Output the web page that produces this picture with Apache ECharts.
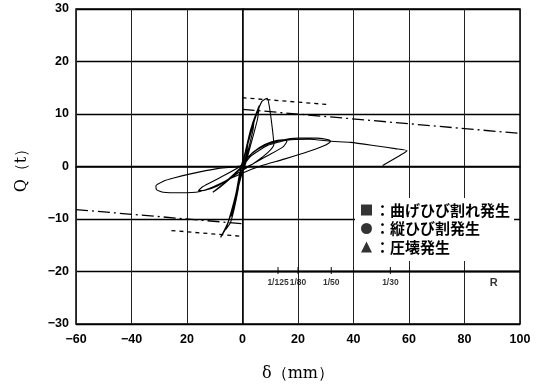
<!DOCTYPE html>
<html>
<head>
<meta charset="utf-8">
<script src="https://cdn.jsdelivr.net/npm/echarts@6/dist/echarts.min.js"></script>
<style>
  html, body { margin: 0; padding: 0; background: #fff; }
  #chart { width: 542px; height: 389px; }
</style>
</head>
<body>
<div id="chart"></div>
<script>
// Axis tick labels
const xTickLabels = ['−60', '−40', '20', '0', '20', '40', '60', '80', '100'];
const yTickLabels = ['−30', '−20', '−10', '0', '10', '20', '30'];

// Load–displacement history, δ (mm) vs Q (t), in loading order
const loadPath = [
  [0, 0],
  [1.0, 2.5], [2.0, 4.6], [1.6, 3.0], [0.6, 0.5], [-0.8, -2.5], [-1.8, -4.6], [-1.3, -3.0], [-0.4, -0.5],
  [1.0, 2.8], [2.8, 6.8], [4.2, 9.0], [3.8, 7.0], [2.0, 3.0], [0.5, 0.0], [-1.2, -3.2], [-2.8, -7.0], [-4.0, -9.5], [-3.3, -7.4], [-1.4, -3.0], [-0.3, 0.0],
  [1.5, 3.6], [3.6, 8.2], [6.0, 11.6], [5.4, 9.0], [3.0, 4.2], [0.8, 0.0], [-1.6, -3.6], [-3.8, -8.5], [-6.0, -12.0], [-4.2, -10.5], [-1.6, -4.5], [-0.4, 0.2],
  [2.0, 4.4], [4.6, 9.2], [7.0, 12.4], [8.9, 13.0], [9.8, 11.0], [10.8, 7.0], [11.3, 4.2], [9.0, 2.6], [4.0, 0.6], [0.2, -0.6],
  [-2.4, -5.4], [-5.2, -10.6], [-7.9, -13.5], [-5.6, -11.4], [-2.4, -5.2], [-0.8, -0.8], [0.4, 0.3],
  [-3.0, -1.4], [-7.0, -3.3], [-10.0, -4.6], [-10.7, -4.9], [-8.5, -4.1], [-4.0, -2.1], [-0.5, -0.3],
  [2.0, 1.8], [6.0, 3.6], [10.5, 4.7], [14.5, 5.1], [16.0, 4.8], [14.5, 3.7], [8.5, 1.9], [2.5, 0.1],
  [-3.5, -1.9], [-9.0, -3.7], [-13.5, -4.5], [-15.9, -4.6], [-14.5, -3.9], [-8.0, -2.1], [-1.0, 0.0],
  [3.0, 2.3], [8.0, 4.0], [14.0, 5.0], [20.0, 5.4], [27.0, 5.4], [31.0, 5.1], [31.8, 4.8], [30.0, 4.1], [24.0, 2.9], [15.0, 1.4], [7.0, 0.2], [2.0, -0.8],
  [-4.0, -2.2], [-10.3, -3.8], [-15.7, -4.8], [-22.0, -5.0], [-28.5, -4.9], [-31.0, -4.4], [-31.2, -3.7], [-28.5, -2.8], [-24.8, -2.2], [-18.7, -1.4], [-9.1, -0.4], [0.0, 0.2],
  [3.0, 2.0], [9.0, 4.0], [16.0, 5.0], [24.0, 5.2], [32.0, 4.8], [39.0, 4.6], [48.5, 3.9], [55.0, 3.4], [59.3, 3.0], [57.0, 2.2], [50.5, 0.2]
];

// Envelope / strength reference lines
const peakEnvelopePos = [[0, 13.1], [31, 11.8]];
const peakEnvelopeNeg = [[-25.6, -12.2], [0, -13.3]];
const calcLinePos = [[0, 10.9], [100, 6.3]];
const calcLineNeg = [[-60, -8.2], [0, -10.9]];

// Drift angle scale drawn along Q = -20
const driftAxisLevel = -20;
const driftAxisSpan = [0, 100];
const driftTicks = [12.8, 20, 32, 53.3];
const driftLabels = ['1/125', '1/80', '1/50', '1/30'];
const driftName = 'R';
const driftNamePos = 90.5;

// Event markers
const legendNames = ['：曲げひび割れ発生', '：縦ひび割発生', '：圧壊発生'];
const legendIcons = ['rect', 'circle', 'triangle'];

const numFont = "'Liberation Sans', Arial, sans-serif";
const chart = echarts.init(document.getElementById('chart'));

const series = [
  {
    type: 'line', data: loadPath, showSymbol: false, smooth: 0.2,
    lineStyle: { color: '#000', width: 1.1 }, z: 5, silent: true
  },
  {
    type: 'line', data: peakEnvelopePos, showSymbol: false,
    lineStyle: { color: '#000', width: 1.3, type: [4, 4] }, silent: true
  },
  {
    type: 'line', data: peakEnvelopeNeg, showSymbol: false,
    lineStyle: { color: '#000', width: 1.3, type: [4, 4] }, silent: true
  },
  {
    type: 'line', data: calcLinePos, showSymbol: false,
    lineStyle: { color: '#000', width: 1.3, type: [12, 4, 2, 4] }, silent: true
  },
  {
    type: 'line', data: calcLineNeg, showSymbol: false,
    lineStyle: { color: '#000', width: 1.3, type: [12, 4, 2, 4] }, silent: true
  },
  {
    type: 'line', data: driftAxisSpan.map(v => [v, driftAxisLevel]), showSymbol: false,
    lineStyle: { color: '#000', width: 2 }, silent: true, z: 3
  },
  {
    type: 'scatter', silent: true,
    data: driftTicks.map((v, i) => ({ value: [v, driftAxisLevel], name: driftLabels[i] })),
    symbol: 'rect', symbolSize: [1.2, 7], symbolOffset: [0, -1],
    itemStyle: { color: '#000' },
    label: {
      show: true, position: 'bottom', distance: 4, formatter: p => p.name,
      fontFamily: numFont, fontSize: 8.5, fontWeight: 'bold', color: '#000'
    }
  },
  {
    type: 'scatter', silent: true,
    data: [{ value: [driftNamePos, driftAxisLevel], name: driftName }],
    symbolSize: 0,
    label: {
      show: true, position: 'bottom', distance: 6, formatter: p => p.name,
      fontFamily: numFont, fontSize: 11, fontWeight: 'bold', color: '#000'
    }
  }
];
legendNames.forEach((n, i) => {
  series.push({ type: 'scatter', name: n, data: [], symbol: legendIcons[i], itemStyle: { color: '#000' } });
});

chart.setOption({
  animation: false,
  backgroundColor: '#fff',
  grid: {
    left: 76, right: 22, top: 9, bottom: 65,
    show: true, borderColor: '#000', borderWidth: 1.5, backgroundColor: 'transparent'
  },
  legend: {
    orient: 'vertical', left: 355, top: 198,
    padding: [4, 4, 6, 6], itemGap: 2.5,
    itemWidth: 11, itemHeight: 11,
    backgroundColor: '#fff', selectedMode: false,
    data: legendNames.map((n, i) => ({ name: n, icon: legendIcons[i] })),
    textStyle: {
      fontFamily: "'Noto Sans CJK JP', sans-serif", fontSize: 15, fontWeight: 'bold',
      color: '#000', lineHeight: 16, padding: [0, 0, 0, -2]
    }
  },
  xAxis: {
    type: 'value', min: -60, max: 100, interval: 20,
    name: 'δ（mm）', nameLocation: 'middle', nameGap: 42,
    nameTextStyle: { fontFamily: "'DejaVu Serif', 'Liberation Serif', serif", fontSize: 16, color: '#000' },
    axisLine: { show: true, lineStyle: { color: '#000', width: 1.5 } },
    axisTick: { show: false },
    axisLabel: {
      margin: 9, color: '#000', fontFamily: numFont, fontSize: 12.5, fontWeight: 'bold',
      formatter: v => xTickLabels[Math.round((v + 60) / 20)]
    },
    splitLine: { show: true, lineStyle: { color: '#222', width: 1 } }
  },
  yAxis: {
    type: 'value', min: -30, max: 30, interval: 10,
    name: 'Q（t）', nameLocation: 'middle', nameGap: 46, nameRotate: 90,
    nameTextStyle: { fontFamily: "'DejaVu Serif', 'Liberation Serif', serif", fontSize: 16, color: '#000' },
    axisLine: { show: true, lineStyle: { color: '#000', width: 1.5 } },
    axisTick: { show: false },
    axisLabel: {
      margin: 7, color: '#000', fontFamily: numFont, fontSize: 12.5, fontWeight: 'bold',
      formatter: v => yTickLabels[Math.round((v + 30) / 10)]
    },
    splitLine: { show: true, lineStyle: { color: '#000', width: 1.4 } }
  },
  series: series
});
</script>
</body>
</html>
